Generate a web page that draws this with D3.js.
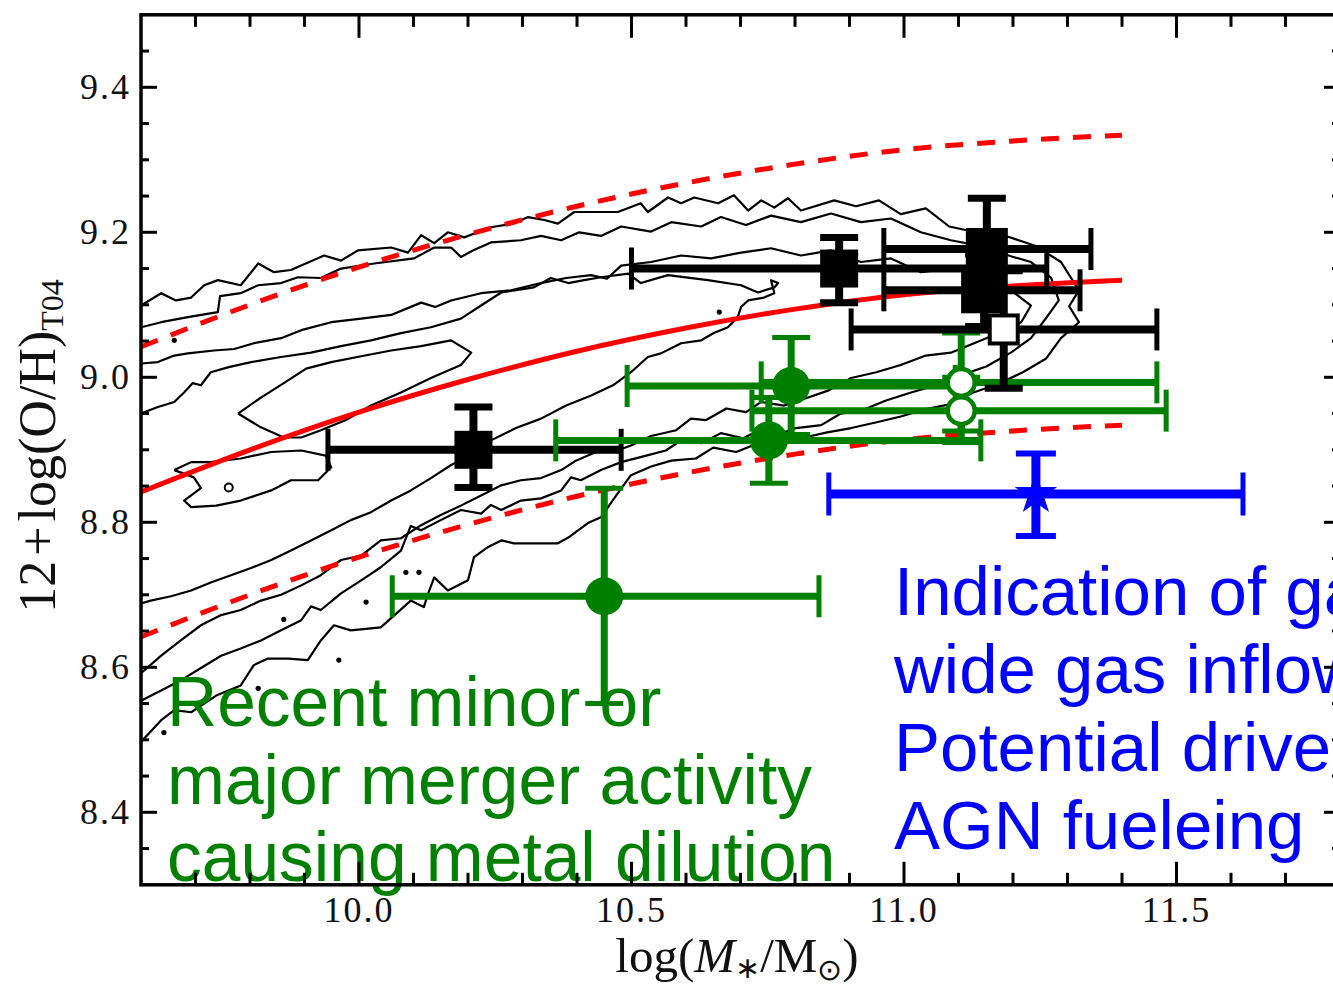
<!DOCTYPE html>
<html>
<head>
<meta charset="utf-8">
<script src="https://cdn.jsdelivr.net/npm/d3@7"></script>
<style>
  body { margin: 0; background: #fff; }
  svg { display: block; }
</style>
</head>
<body>
<svg id="chart" width="1333" height="984"></svg>
<script>
// ---- axes ----
const massDomain = [9.6, 11.8];
const ohDomain = [8.3, 9.5];
const xMajorTicks = [10.0, 10.5, 11.0, 11.5];
const xTickLabels = ["10.0", "10.5", "11.0", "11.5"];
const xMinorTicks = [9.7, 9.8, 9.9, 10.1, 10.2, 10.3, 10.4, 10.6, 10.7, 10.8, 10.9, 11.1, 11.2, 11.3, 11.4, 11.6, 11.7];
const yMajorTicks = [8.4, 8.6, 8.8, 9.0, 9.2, 9.4];
const yTickLabels = ["8.4", "8.6", "8.8", "9.0", "9.2", "9.4"];
const yMinorTicks = [8.35, 8.45, 8.5, 8.55, 8.65, 8.7, 8.75, 8.85, 8.9, 8.95, 9.05, 9.1, 9.15, 9.25, 9.3, 9.35, 9.45];

// ---- mass-metallicity relation (median and +/- 0.2 dex envelope) ----
const fitMass   = [9.6, 9.8, 10.0, 10.2, 10.4, 10.6, 10.8, 11.0, 11.2, 11.4];
const fitMedian = [8.842, 8.900, 8.952, 8.997, 9.036, 9.068, 9.094, 9.114, 9.126, 9.134];
const fitUpper  = [9.042, 9.100, 9.152, 9.197, 9.236, 9.268, 9.294, 9.314, 9.326, 9.334];
const fitLower  = [8.642, 8.700, 8.752, 8.797, 8.836, 8.868, 8.894, 8.914, 8.926, 8.934];

// ---- density contours of the comparison sample: [log M*, 12+log(O/H)] ----
const contour1 = [[9.600,9.099],[9.637,9.116],[9.664,9.106],[9.692,9.110],[9.716,9.127],[9.741,9.134],[9.783,9.127],[9.815,9.157],[9.844,9.145],[9.875,9.148],[9.936,9.168],[9.967,9.161],[9.998,9.175],[10.059,9.179],[10.090,9.172],[10.114,9.196],[10.138,9.185],[10.163,9.200],[10.193,9.193],[10.242,9.207],[10.284,9.212],[10.310,9.221],[10.340,9.217],[10.365,9.212],[10.395,9.228],[10.475,9.228],[10.517,9.240],[10.530,9.228],[10.567,9.248],[10.591,9.240],[10.615,9.248],[10.659,9.240],[10.688,9.251],[10.714,9.230],[10.738,9.244],[10.762,9.234],[10.787,9.247],[10.811,9.230],[10.872,9.244],[10.912,9.236],[10.954,9.244],[10.994,9.225],[11.040,9.233],[11.083,9.208],[11.132,9.200],[11.187,9.195],[11.242,9.181],[11.288,9.159],[11.321,9.120],[11.303,9.098],[11.321,9.076],[11.288,9.054],[11.261,9.026],[11.218,9.007],[11.171,8.990],[11.127,8.979],[11.086,8.963],[11.040,8.956],[10.994,8.946],[10.950,8.938],[10.903,8.930],[10.859,8.924],[10.811,8.916],[10.771,8.905],[10.729,8.908],[10.692,8.897],[10.650,8.903],[10.618,8.888],[10.573,8.885],[10.536,8.877],[10.499,8.865],[10.472,8.837],[10.444,8.807],[10.420,8.799],[10.384,8.779],[10.365,8.771],[10.321,8.771],[10.284,8.771],[10.261,8.775],[10.237,8.766],[10.211,8.752],[10.200,8.720],[10.163,8.706],[10.138,8.724],[10.127,8.702],[10.119,8.683],[10.095,8.692],[10.040,8.655],[9.985,8.651],[9.954,8.658],[9.930,8.637],[9.906,8.610],[9.870,8.612],[9.833,8.612],[9.807,8.603],[9.783,8.575],[9.738,8.561],[9.692,8.538],[9.661,8.541],[9.637,8.527],[9.600,8.497]];
const contour2 = [[9.600,9.069],[9.637,9.076],[9.686,9.083],[9.741,9.090],[9.745,9.112],[9.783,9.116],[9.815,9.127],[9.857,9.130],[9.888,9.138],[9.930,9.137],[9.967,9.150],[10.028,9.157],[10.101,9.164],[10.138,9.179],[10.169,9.179],[10.187,9.166],[10.209,9.175],[10.242,9.186],[10.297,9.189],[10.334,9.195],[10.371,9.189],[10.404,9.200],[10.444,9.195],[10.481,9.208],[10.536,9.201],[10.573,9.214],[10.628,9.208],[10.664,9.221],[10.710,9.210],[10.756,9.223],[10.811,9.214],[10.866,9.226],[10.921,9.214],[10.976,9.219],[11.031,9.200],[11.086,9.189],[11.141,9.181],[11.196,9.167],[11.233,9.159],[11.270,9.137],[11.284,9.106],[11.260,9.081],[11.233,9.054],[11.196,9.034],[11.151,9.015],[11.105,9.003],[11.059,8.989],[11.013,8.979],[10.967,8.968],[10.921,8.954],[10.884,8.950],[10.848,8.934],[10.802,8.930],[10.765,8.920],[10.734,8.927],[10.705,8.916],[10.664,8.923],[10.628,8.909],[10.591,8.913],[10.563,8.899],[10.527,8.892],[10.481,8.883],[10.444,8.872],[10.407,8.858],[10.389,8.862],[10.371,8.844],[10.334,8.833],[10.297,8.830],[10.261,8.817],[10.242,8.824],[10.224,8.812],[10.187,8.817],[10.150,8.803],[10.114,8.789],[10.095,8.795],[10.077,8.761],[10.040,8.738],[10.004,8.720],[9.967,8.702],[9.930,8.679],[9.912,8.684],[9.894,8.665],[9.857,8.651],[9.820,8.637],[9.783,8.626],[9.747,8.616],[9.710,8.599],[9.673,8.582],[9.637,8.568],[9.600,8.554]];
const contour3 = [[9.600,9.019],[9.631,9.021],[9.661,9.030],[9.686,9.033],[9.734,9.037],[9.771,9.039],[9.807,9.047],[9.857,9.054],[9.894,9.065],[9.949,9.076],[10.004,9.081],[10.059,9.086],[10.114,9.103],[10.140,9.097],[10.169,9.106],[10.224,9.116],[10.279,9.120],[10.334,9.130],[10.380,9.137],[10.426,9.141],[10.455,9.136],[10.481,9.154],[10.536,9.159],[10.591,9.168],[10.646,9.164],[10.701,9.172],[10.756,9.178],[10.811,9.168],[10.866,9.175],[10.921,9.159],[10.976,9.164],[11.031,9.145],[11.086,9.150],[11.151,9.141],[11.196,9.120],[11.233,9.099],[11.215,9.076],[11.178,9.062],[11.132,9.048],[11.086,9.034],[11.040,9.030],[10.994,9.017],[10.949,9.007],[10.903,8.999],[10.862,8.982],[10.820,8.971],[10.780,8.961],[10.738,8.966],[10.710,8.952],[10.674,8.957],[10.637,8.941],[10.609,8.943],[10.582,8.927],[10.536,8.919],[10.499,8.906],[10.466,8.897],[10.435,8.897],[10.398,8.885],[10.371,8.872],[10.334,8.861],[10.297,8.858],[10.261,8.851],[10.224,8.837],[10.187,8.823],[10.150,8.810],[10.114,8.796],[10.077,8.778],[10.040,8.775],[10.004,8.754],[9.967,8.748],[9.930,8.727],[9.894,8.713],[9.857,8.700],[9.820,8.692],[9.783,8.679],[9.747,8.672],[9.710,8.658],[9.673,8.637],[9.637,8.616],[9.600,8.592]];
const contour4 = [[9.600,8.950],[9.631,8.959],[9.661,8.966],[9.679,8.979],[9.695,8.992],[9.710,8.989],[9.728,9.007],[9.761,9.014],[9.802,9.021],[9.857,9.028],[9.912,9.034],[9.967,9.043],[10.022,9.051],[10.077,9.061],[10.132,9.069],[10.187,9.081],[10.224,9.099],[10.261,9.117],[10.321,9.124],[10.352,9.137],[10.384,9.130],[10.413,9.134],[10.444,9.138],[10.494,9.143],[10.517,9.130],[10.567,9.141],[10.640,9.134],[10.701,9.127],[10.732,9.117],[10.762,9.124],[10.769,9.130],[10.756,9.134],[10.762,9.116],[10.743,9.110],[10.714,9.106],[10.701,9.097],[10.695,9.083],[10.677,9.069],[10.651,9.061],[10.628,9.051],[10.591,9.047],[10.554,9.033],[10.530,9.028],[10.499,9.007],[10.466,8.989],[10.426,8.975],[10.380,8.961],[10.334,8.943],[10.288,8.930],[10.242,8.913],[10.206,8.892],[10.169,8.879],[10.132,8.861],[10.095,8.844],[10.059,8.830],[10.022,8.814],[9.985,8.803],[9.949,8.789],[9.912,8.775],[9.875,8.761],[9.839,8.748],[9.802,8.737],[9.765,8.727],[9.728,8.717],[9.692,8.706],[9.655,8.698],[9.618,8.692],[9.600,8.688]];
const contour5 = [[9.778,8.950],[9.820,8.972],[9.862,8.992],[9.903,9.012],[9.949,9.021],[10.004,9.029],[10.059,9.037],[10.114,9.043],[10.169,9.051],[10.206,9.034],[10.187,9.017],[10.132,8.999],[10.077,8.979],[10.022,8.961],[9.976,8.941],[9.930,8.927],[9.894,8.917],[9.862,8.917],[9.820,8.931],[9.778,8.950]];
const contour6 = [[9.661,8.872],[9.697,8.862],[9.710,8.847],[9.679,8.830],[9.692,8.821],[9.738,8.823],[9.783,8.830],[9.839,8.844],[9.875,8.858],[9.925,8.858],[9.949,8.876],[9.939,8.892],[9.894,8.899],[9.839,8.897],[9.783,8.888],[9.728,8.883],[9.692,8.883],[9.661,8.872]];
const isolatedGalaxies = [[9.661,9.051],[10.013,8.690],[9.862,8.666],[10.086,8.731],[10.110,8.731],[9.815,8.571],[9.963,8.610],[9.642,8.510],[10.661,9.090]];
const isolatedRings = [[9.761,8.848]];

// ---- stacked samples (black filled squares) ----
const blackMass   = [10.210, 10.881, 11.152, 11.147];
const blackOH     = [8.900, 9.150, 9.177, 9.120];
const blackMassLo = [9.943, 10.500, 10.963, 10.963];
const blackMassHi = [10.481, 11.262, 11.343, 11.323];
const blackOHLo   = [8.848, 9.103, 9.107, 9.070];
const blackOHHi   = [8.959, 9.193, 9.247, 9.170];

// ---- open black square ----
const openSqMass = [11.183], openSqOH = [9.066];
const openSqMassLo = [10.903], openSqMassHi = [11.464];
const openSqOHLo = [8.985], openSqOHHi = [9.147];

// ---- green filled circles ----
const greenMass   = [10.793, 10.752, 10.450];
const greenOH     = [8.988, 8.913, 8.698];
const greenMassLo = [10.492, 10.361, 10.061];
const greenMassHi = [11.094, 11.141, 10.844];
const greenOHLo   = [8.921, 8.854, 8.550];
const greenOHHi   = [9.055, 8.972, 8.847];

// ---- green open circles ----
const greenOpenMass   = [11.105, 11.105];
const greenOpenOH     = [8.993, 8.954];
const greenOpenMassLo = [10.738, 10.721];
const greenOpenMassHi = [11.464, 11.481];
const greenOpenOHLo   = [8.926, 8.910];
const greenOpenOHHi   = [9.061, 9.000];

// ---- blue star ----
const blueMass = [11.242], blueOH = [8.839];
const blueMassLo = [10.862], blueMassHi = [11.622];
const blueOHLo = [8.781], blueOHHi = [8.895];

// ---- annotations ----
const mergerNote = ["Recent minor or", "major merger activity", "causing metal dilution"];
const inflowNote = ["Indication of galaxy-", "wide gas inflow:", "Potential driver of", "AGN fueleing"];

// =====================================================================
const GREEN = "#008000", BLUE = "#0000ff", RED = "#ff0000";
const svg = d3.select("#chart");
const x = d3.scaleLinear().domain(massDomain).range([141, 1340]);
const y = d3.scaleLinear().domain(ohDomain).range([884.8, 14.8]);

svg.append("rect").attr("width", 1333).attr("height", 984).attr("fill", "#fff");

svg.append("clipPath").attr("id", "plotArea")
  .append("rect")
  .attr("x", x(massDomain[0])).attr("y", y(ohDomain[1]))
  .attr("width", x(massDomain[1]) - x(massDomain[0]))
  .attr("height", y(ohDomain[0]) - y(ohDomain[1]));

const plot = svg.append("g").attr("clip-path", "url(#plotArea)");

// contours
const contourLine = d3.line().x(d => x(d[0])).y(d => y(d[1]));
plot.append("g")
  .selectAll("path")
  .data([contour1, contour2, contour3, contour4, contour5, contour6])
  .join("path")
  .attr("d", contourLine)
  .attr("fill", "none")
  .attr("stroke", "#000")
  .attr("stroke-width", 2.2)
  .attr("stroke-linejoin", "round");

plot.append("g").selectAll("circle")
  .data(isolatedGalaxies)
  .join("circle")
  .attr("cx", d => x(d[0])).attr("cy", d => y(d[1]))
  .attr("r", 2.6).attr("fill", "#000");

plot.append("g").selectAll("circle")
  .data(isolatedRings)
  .join("circle")
  .attr("cx", d => x(d[0])).attr("cy", d => y(d[1]))
  .attr("r", 4).attr("fill", "none").attr("stroke", "#000").attr("stroke-width", 2);

// relation and envelope
const fitLine = d3.line().curve(d3.curveMonotoneX).x((d, i) => x(fitMass[i])).y(d => y(d));
plot.append("path").attr("d", fitLine(fitMedian))
  .attr("fill", "none").attr("stroke", RED).attr("stroke-width", 5);
[fitUpper, fitLower].forEach(arr => {
  plot.append("path").attr("d", fitLine(arr))
    .attr("fill", "none").attr("stroke", RED).attr("stroke-width", 5)
    .attr("stroke-dasharray", "18,14");
});

// error bar helper
function errorBar(g, cx, cy, xLo, xHi, yLo, yHi, color, st) {
  const seg = (x1, y1, x2, y2, w) => g.append("line")
    .attr("x1", x1).attr("y1", y1).attr("x2", x2).attr("y2", y2)
    .attr("stroke", color).attr("stroke-width", w);
  seg(x(xLo), y(cy), x(xHi), y(cy), st.bar);
  seg(x(xLo), y(cy) - st.endLen / 2, x(xLo), y(cy) + st.endLen / 2, st.endW);
  seg(x(xHi), y(cy) - st.endLen / 2, x(xHi), y(cy) + st.endLen / 2, st.endW);
  seg(x(cx), y(yLo), x(cx), y(yHi), st.bar);
  seg(x(cx) - st.capLen / 2, y(yHi), x(cx) + st.capLen / 2, y(yHi), st.capW);
  seg(x(cx) - st.capLen / 2, y(yLo), x(cx) + st.capLen / 2, y(yLo), st.capW);
}

const blackStyle = { bar: 8, endLen: 42, endW: 5, capLen: 38, capW: 7 };
const greenStyle = { bar: 7, endLen: 42, endW: 5, capLen: 38, capW: 5 };
const blueStyle  = { bar: 9, endLen: 43, endW: 5, capLen: 40, capW: 6 };

// black stacked samples
const squareSide = [38, 38, 42, 46];
const gBlack = plot.append("g");
blackMass.forEach((m, i) => {
  errorBar(gBlack, m, blackOH[i], blackMassLo[i], blackMassHi[i], blackOHLo[i], blackOHHi[i], "#000", blackStyle);
});
blackMass.forEach((m, i) => {
  const s = squareSide[i];
  gBlack.append("rect")
    .attr("x", x(m) - s / 2).attr("y", y(blackOH[i]) - s / 2)
    .attr("width", s).attr("height", s).attr("fill", "#000");
});

// green samples
const gGreen = plot.append("g");
greenOpenMass.forEach((m, i) => {
  errorBar(gGreen, m, greenOpenOH[i], greenOpenMassLo[i], greenOpenMassHi[i], greenOpenOHLo[i], greenOpenOHHi[i], GREEN, greenStyle);
});
greenMass.forEach((m, i) => {
  errorBar(gGreen, m, greenOH[i], greenMassLo[i], greenMassHi[i], greenOHLo[i], greenOHHi[i], GREEN, greenStyle);
});
greenMass.forEach((m, i) => {
  gGreen.append("circle").attr("cx", x(m)).attr("cy", y(greenOH[i])).attr("r", 19).attr("fill", GREEN);
});
greenOpenMass.forEach((m, i) => {
  gGreen.append("circle").attr("cx", x(m)).attr("cy", y(greenOpenOH[i])).attr("r", 13.5)
    .attr("fill", "#fff").attr("stroke", GREEN).attr("stroke-width", 4.5);
});

// open black square
const gOpen = plot.append("g");
openSqMass.forEach((m, i) => {
  errorBar(gOpen, m, openSqOH[i], openSqMassLo[i], openSqMassHi[i], openSqOHLo[i], openSqOHHi[i], "#000", blackStyle);
  gOpen.append("rect")
    .attr("x", x(m) - 14).attr("y", y(openSqOH[i]) - 14)
    .attr("width", 28).attr("height", 28)
    .attr("fill", "#fff").attr("stroke", "#000").attr("stroke-width", 4);
});

// blue star
const gBlue = plot.append("g");
blueMass.forEach((m, i) => {
  errorBar(gBlue, m, blueOH[i], blueMassLo[i], blueMassHi[i], blueOHLo[i], blueOHHi[i], BLUE, blueStyle);
  gBlue.append("path")
    .attr("d", d3.symbol().type(d3.symbolStar).size(560)())
    .attr("transform", `translate(${x(m)},${y(blueOH[i])})`)
    .attr("fill", BLUE);
});

// annotations
const sans = "'Liberation Sans', Arial, Helvetica, sans-serif";
svg.append("g").selectAll("text")
  .data(mergerNote)
  .join("text")
  .attr("x", 167).attr("y", (d, i) => 726 + i * 77.5)
  .attr("font-family", sans).attr("font-size", 69.5).attr("fill", GREEN)
  .text(d => d);
svg.append("g").selectAll("text")
  .data(inflowNote)
  .join("text")
  .attr("x", 894).attr("y", (d, i) => 615 + i * 78)
  .attr("font-family", sans).attr("font-size", 69).attr("fill", BLUE)
  .text(d => d);

// frame and ticks
const serif = "'Liberation Serif', 'Times New Roman', serif";
const axes = svg.append("g").attr("stroke", "#000").attr("stroke-width", 3);
const x0 = x(massDomain[0]), x1 = x(massDomain[1]), yTop = y(ohDomain[1]), yBot = y(ohDomain[0]);
axes.append("rect").attr("x", x0).attr("y", yTop).attr("width", x1 - x0).attr("height", yBot - yTop)
  .attr("fill", "none").attr("stroke-width", 3.5);

function xTicks(vals, len) {
  vals.forEach(v => {
    axes.append("line").attr("x1", x(v)).attr("x2", x(v)).attr("y1", yBot).attr("y2", yBot - len);
    axes.append("line").attr("x1", x(v)).attr("x2", x(v)).attr("y1", yTop).attr("y2", yTop + len);
  });
}
function yTicks(vals, len) {
  vals.forEach(v => {
    axes.append("line").attr("x1", x0).attr("x2", x0 + len).attr("y1", y(v)).attr("y2", y(v));
    axes.append("line").attr("x1", x1).attr("x2", x1 - len).attr("y1", y(v)).attr("y2", y(v));
  });
}
xTicks(xMinorTicks, 12);
xTicks(xMajorTicks, 23);
yTicks(yMinorTicks, 8);
yTicks(yMajorTicks, 16);

svg.append("g").selectAll("text")
  .data(xMajorTicks)
  .join("text")
  .attr("x", d => x(d)).attr("y", 922)
  .attr("text-anchor", "middle")
  .attr("font-family", serif).attr("font-size", 36).attr("letter-spacing", 2)
  .attr("fill", "#111")
  .text((d, i) => xTickLabels[i]);

svg.append("g").selectAll("text")
  .data(yMajorTicks)
  .join("text")
  .attr("x", 131).attr("y", d => y(d) + 12)
  .attr("text-anchor", "end")
  .attr("font-family", serif).attr("font-size", 36).attr("letter-spacing", 2)
  .attr("fill", "#111")
  .text((d, i) => yTickLabels[i]);

// axis titles
const xt = svg.append("text")
  .attr("x", 737).attr("y", 972)
  .attr("text-anchor", "middle")
  .attr("font-family", serif).attr("font-size", 49).attr("fill", "#111");
xt.append("tspan").text("log(");
xt.append("tspan").attr("font-style", "italic").text("M");
xt.append("tspan").attr("font-size", 30).attr("dy", 6).text("\u2217");
xt.append("tspan").attr("dy", -6).text("/M");
xt.append("tspan").attr("font-size", 30).attr("dy", 8).text("\u2299");
xt.append("tspan").attr("dy", -8).text(")");

const yt = svg.append("text")
  .attr("transform", "translate(55,446) rotate(-90)")
  .attr("text-anchor", "middle")
  .attr("font-family", serif).attr("font-size", 52).attr("fill", "#111");
yt.append("tspan").text("12");
yt.append("tspan").attr("dx", 5).text("+");
yt.append("tspan").attr("dx", 5).text("log(O/H)");
yt.append("tspan").attr("font-size", 32).attr("dy", 8).text("T04");
</script>
</body>
</html>
